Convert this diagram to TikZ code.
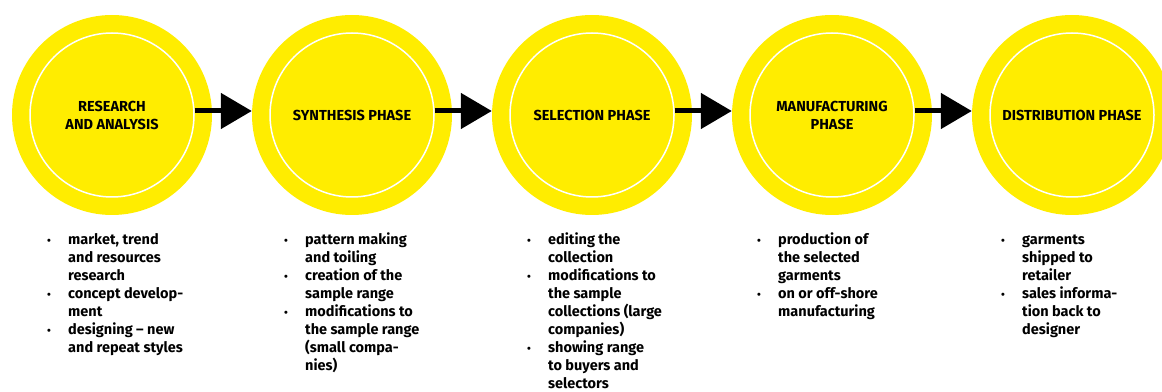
\documentclass[tikz,border=0pt]{standalone}
\usepackage{fontspec}
\setmainfont{Fira Sans}
\usetikzlibrary{arrows.meta}
\definecolor{phaseyellow}{RGB}{255,237,0}
\newcommand{\bul}{{\fontsize{11}{11}\selectfont\textbullet}}

\begin{document}
\begin{tikzpicture}[x=1pt,y=1pt,
		phase/.style={
			circle, fill=phaseyellow, minimum size=200pt, inner sep=0pt,
			align=center, font=\bfseries\fontsize{14.5}{18}\selectfont
		},
		ring/.style={circle, draw=white, line width=1.5pt, minimum size=164pt, inner sep=0pt},
		flow/.style={line width=5pt, -{Triangle[length=31pt,width=35pt]}},
		points/.style={anchor=north west, inner sep=0pt, align=left,
			font=\bfseries\fontsize{14.5}{18}\selectfont}
	]
		\useasboundingbox (0,0) rectangle (1162,391);

		% the five phases
		\node[phase](research) at (112,276){RESEARCH\\AND ANALYSIS};
		\node[ring](research-in) at (research){};
		\node[phase](synthesis) at (352,276){SYNTHESIS PHASE};
		\node[ring](synthesis-in) at (synthesis){};
		\node[phase](selection) at (592,276){SELECTION PHASE};
		\node[ring](selection-in) at (selection){};
		\node[phase](manufacturing) at (832,276){MANUFACTURING\\PHASE};
		\node[ring](manufacturing-in) at (manufacturing){};
		\node[phase](distribution) at (1072,276){DISTRIBUTION PHASE};
		\node[ring](distribution-in) at (distribution){};

		% arrows between phases
		\draw[flow] ([yshift=4pt]research-in.east) -- ([yshift=4pt]synthesis.west);
		\draw[flow] ([yshift=4pt]synthesis-in.east) -- ([yshift=4pt]selection.west);
		\draw[flow] ([yshift=4pt]selection-in.east) -- ([yshift=4pt]manufacturing.west);
		\draw[flow] ([yshift=4pt]manufacturing-in.east) -- ([yshift=4pt]distribution.west);

		% what happens in each phase
		\node[points](research-list) at (47,159){%
			\begin{tabular}{@{}p{21pt}@{}l@{}}
				\bul & market, trend\\
				     & and resources\\
				     & research\\
				\bul & concept develop-\\
				     & ment\\
				\bul & designing -- new\\
				     & and repeat styles
			\end{tabular}};
		\node[points](synthesis-list) at (284,159){%
			\begin{tabular}{@{}p{21pt}@{}l@{}}
				\bul & pattern making\\
				     & and toiling\\
				\bul & creation of the\\
				     & sample range\\
				\bul & modifications to\\
				     & the sample range\\
				     & (small compa-\\
				     & nies)
			\end{tabular}};
		\node[points](selection-list) at (527,159){%
			\begin{tabular}{@{}p{21pt}@{}l@{}}
				\bul & editing the\\
				     & collection\\
				\bul & modifications to\\
				     & the sample\\
				     & collections (large\\
				     & companies)\\
				\bul & showing range\\
				     & to buyers and\\
				     & selectors
			\end{tabular}};
		\node[points](manufacturing-list) at (757,159){%
			\begin{tabular}{@{}p{21pt}@{}l@{}}
				\bul & production of\\
				     & the selected\\
				     & garments\\
				\bul & on or off-shore\\
				     & manufacturing
			\end{tabular}};
		\node[points](distribution-list) at (1001,159){%
			\begin{tabular}{@{}p{21pt}@{}l@{}}
				\bul & garments\\
				     & shipped to\\
				     & retailer\\
				\bul & sales informa-\\
				     & tion back to\\
				     & designer
			\end{tabular}};

	\end{tikzpicture}
\end{document}
